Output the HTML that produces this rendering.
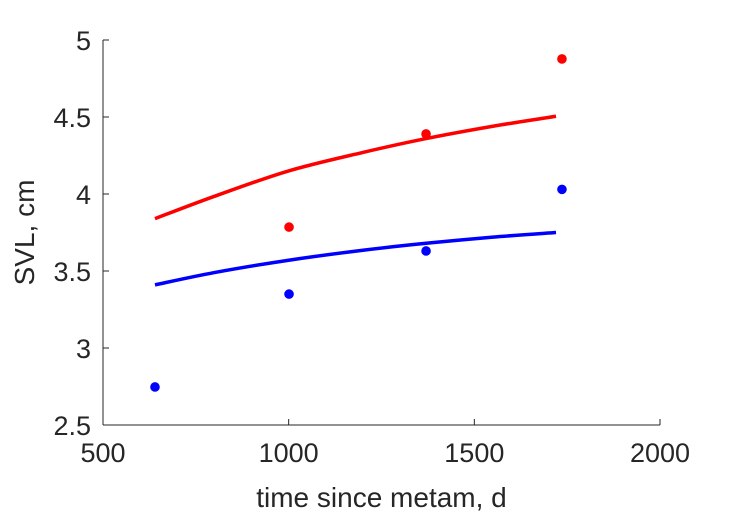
<!DOCTYPE html>
<html><head><meta charset="utf-8"><style>
body{margin:0;background:#fff;}
svg text{font-family:"Liberation Sans",sans-serif;fill:#262626;}
</style></head><body>
<svg id="chart" width="729" height="521" xmlns="http://www.w3.org/2000/svg"></svg>
<script>
const xTicks=[500,1000,1500,2000];
const yTicks=[2.5,3,3.5,4,4.5,5];
const yTickLabels=["2.5","3","3.5","4","4.5","5"];
const obsX=[640,1001,1370,1736];
const blueObs=[2.747,3.35,3.63,4.03];
const redObs=[null,3.785,4.39,4.877];
const fitX=[640,800,1000,1200,1370,1550,1720];
const redFit=[3.84,3.985,4.15,4.27,4.36,4.44,4.505];
const blueFit=[3.41,3.49,3.57,3.635,3.68,3.72,3.75];
const L=103,R=660,T=40,B=425;
const sx=v=>L+(v-500)/1500*(R-L);
const sy=v=>B-(v-2.5)/2.5*(B-T);
const svg=document.getElementById('chart');
const NS='http://www.w3.org/2000/svg';
function mk(t,a){const e=document.createElementNS(NS,t);for(const k in a)e.setAttribute(k,a[k]);svg.appendChild(e);return e;}
let e;
e=mk('line',{x1:L,y1:B,x2:R,y2:B,stroke:'#262626','stroke-width':1});


e=mk('line',{x1:L,y1:T,x2:L,y2:B,stroke:'#262626','stroke-width':1});


xTicks.forEach(v=>{
 e=mk('line',{x1:sx(v),y1:B,x2:sx(v),y2:B-6,stroke:'#262626'});
 
 
 e=mk('text',{x:sx(v),y:B+37,'text-anchor':'middle','font-size':27});
 e.textContent=String(v);
 
 
});
yTicks.forEach((v,i)=>{
 e=mk('line',{x1:L,y1:sy(v),x2:L+6,y2:sy(v),stroke:'#262626'});
 
 
 e=mk('text',{x:L-12,y:sy(v)+10,'text-anchor':'end','font-size':27});
 e.textContent=yTickLabels[i];
 
 
});
e=mk('text',{x:(L+R)/2,y:507,'text-anchor':'middle','font-size':28});
e.textContent='time since metam, d';


e=mk('text',{x:0,y:0,'text-anchor':'middle','font-size':28,transform:`translate(34,${(T+B)/2}) rotate(-90)`});
e.textContent='SVL, cm';


function line(ys,c,name){
 const P=fitX.map((x,i)=>[sx(x),sy(ys[i])]);
 let d='M'+P[0][0]+','+P[0][1];
 for(let i=0;i<P.length-1;i++){
  const p0=P[Math.max(i-1,0)],p1=P[i],p2=P[i+1],p3=P[Math.min(i+2,P.length-1)];
  const c1=[p1[0]+(p2[0]-p0[0])/6,p1[1]+(p2[1]-p0[1])/6];
  const c2=[p2[0]-(p3[0]-p1[0])/6,p2[1]-(p3[1]-p1[1])/6];
  d+=` C${c1[0]},${c1[1]} ${c2[0]},${c2[1]} ${p2[0]},${p2[1]}`;
 }
 const p=mk('path',{d:d,fill:'none',stroke:c,'stroke-width':3.5});
 
 
}
line(redFit,'#ff0000','red-fit-line');
line(blueFit,'#0000ff','blue-fit-line');
function pts(ys,c,name){
 ys.forEach((y,i)=>{ if(y==null)return;
  const p=mk('circle',{cx:sx(obsX[i]),cy:sy(y),r:4.8,fill:c});
  
  
 });
}
pts(redObs,'#ff0000','red-data-point');
pts(blueObs,'#0000ff','blue-data-point');
</script>
</body></html>
